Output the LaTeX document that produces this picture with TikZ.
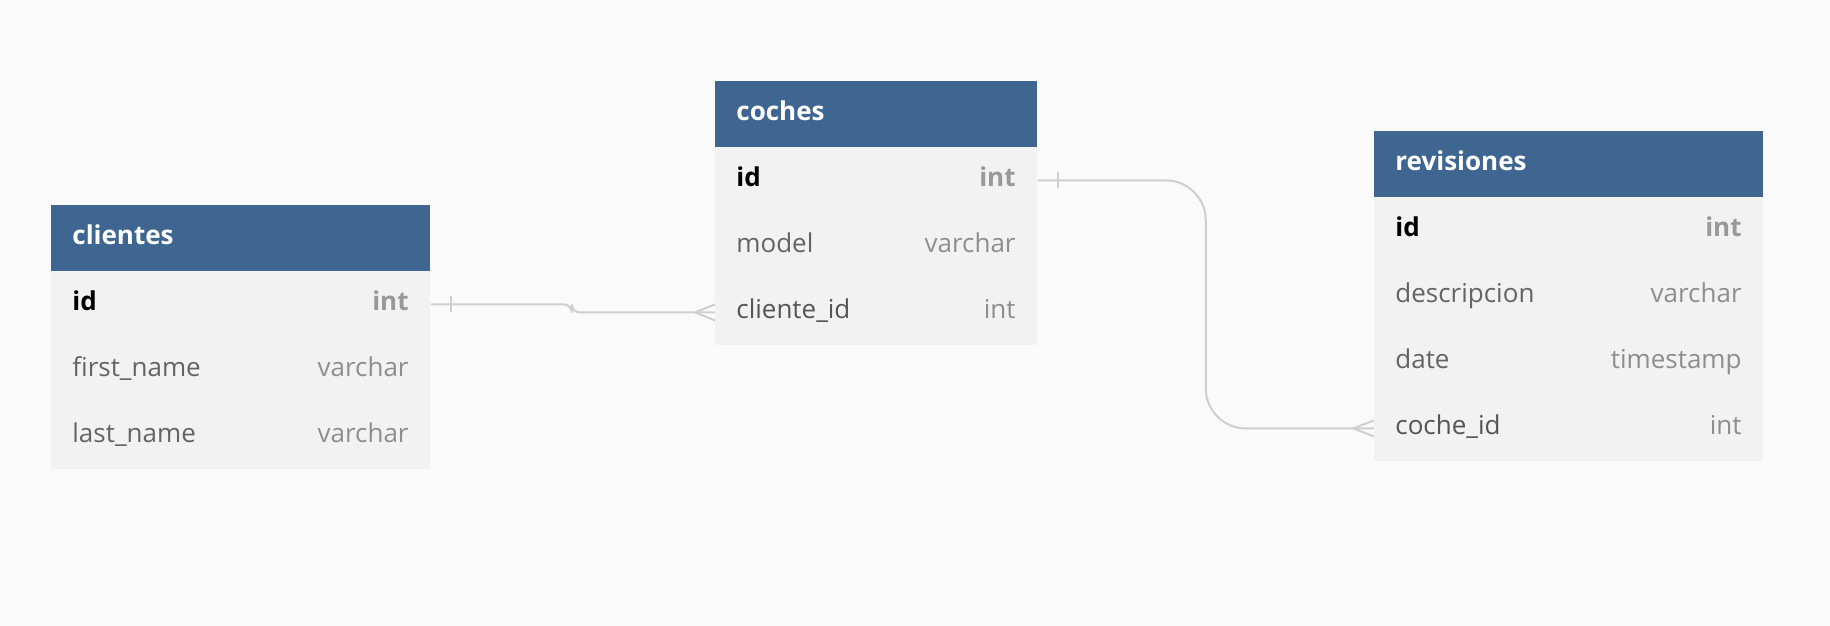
\documentclass[tikz,border=0pt]{standalone}
\usepackage{fontspec}
\setmainfont{Open Sans}
\definecolor{bgc}{HTML}{FAFAFA}
\definecolor{hdr}{HTML}{3F6690}
\definecolor{bodyc}{HTML}{F2F2F2}
\definecolor{namec}{HTML}{646464}
\definecolor{fkc}{HTML}{555555}
\definecolor{typec}{HTML}{8E8E8E}
\definecolor{pktype}{HTML}{999999}
\definecolor{linec}{HTML}{CFCFCF}
\tikzset{
  hdrbox/.style={fill=hdr, draw=none, minimum height=33pt, inner sep=0pt, anchor=north west},
  rowbox/.style={fill=bodyc, draw=none, minimum height=33pt, inner sep=0pt, anchor=north west},
  ttl/.style={text=white, font=\fontsize{13}{15}\selectfont\bfseries, anchor=base west, inner sep=0pt},
  fname/.style={text=namec, font=\fontsize{13}{15}\selectfont, anchor=base west, inner sep=0pt},
  pkname/.style={text=black, font=\fontsize{13}{15}\selectfont\bfseries, anchor=base west, inner sep=0pt},
  fkname/.style={text=fkc, font=\fontsize{13}{15}\selectfont, anchor=base west, inner sep=0pt},
  ftype/.style={text=typec, font=\fontsize{13}{15}\selectfont, anchor=base east, inner sep=0pt},
  pktyp/.style={text=pktype, font=\fontsize{13}{15}\selectfont\bfseries, anchor=base east, inner sep=0pt},
  conn/.style={draw=linec, line width=1pt},
}
\begin{document}
\begin{tikzpicture}[x=0.5pt,y=-0.5pt]
\fill[bgc] (0,0) rectangle (1830,626);
\useasboundingbox (0,0) rectangle (1830,626);

% clientes
\node[hdrbox, minimum width=189.5pt] (clh) at (51,205) {};
\node[rowbox, minimum width=189.5pt] (cl1) at (51,271) {};
\node[rowbox, minimum width=189.5pt] (cl2) at (51,337) {};
\node[rowbox, minimum width=189.5pt] (cl3) at (51,403) {};
\node[ttl] (clht) at (72,244) {clientes};
\node[pkname] (cl1n) at (72,310) {id};
\node[pktyp] (cl1t) at (409,310) {int};
\node[fname] (cl2n) at (72,376) {first\_name};
\node[ftype] (cl2t) at (409,376) {varchar};
\node[fname] (cl3n) at (72,442) {last\_name};
\node[ftype] (cl3t) at (409,442) {varchar};

% coches
\node[hdrbox, minimum width=161pt] (coh) at (715,81) {};
\node[rowbox, minimum width=161pt] (co1) at (715,147) {};
\node[rowbox, minimum width=161pt] (co2) at (715,213) {};
\node[rowbox, minimum width=161pt] (co3) at (715,279) {};
\node[ttl] (coht) at (736,120) {coches};
\node[pkname] (co1n) at (736,186) {id};
\node[pktyp] (co1t) at (1016,186) {int};
\node[fname] (co2n) at (736,252) {model};
\node[ftype] (co2t) at (1016,252) {varchar};
\node[fkname] (co3n) at (736,318) {cliente\_id};
\node[ftype] (co3t) at (1016,318) {int};

% revisiones
\node[hdrbox, minimum width=194.5pt] (rvh) at (1374,131) {};
\node[rowbox, minimum width=194.5pt] (rv1) at (1374,197) {};
\node[rowbox, minimum width=194.5pt] (rv2) at (1374,263) {};
\node[rowbox, minimum width=194.5pt] (rv3) at (1374,329) {};
\node[rowbox, minimum width=194.5pt] (rv4) at (1374,395) {};
\node[ttl] (rvht) at (1395,170) {revisiones};
\node[pkname] (rv1n) at (1395,236) {id};
\node[pktyp] (rv1t) at (1742,236) {int};
\node[fname] (rv2n) at (1395,302) {descripcion};
\node[ftype] (rv2t) at (1742,302) {varchar};
\node[fname] (rv3n) at (1395,368) {date};
\node[ftype] (rv3t) at (1742,368) {timestamp};
\node[fkname] (rv4n) at (1395,434) {coche\_id};
\node[ftype] (rv4t) at (1742,434) {int};

% connector clientes.id -> coches.cliente_id
\draw[conn, rounded corners=4] (cl1.east) -- ++(141,0) |- (co3.west);
\draw[conn] ([xshift=10pt]cl1.east) ++(0,-8) -- ++(0,16);
\draw[conn] ([xshift=-10pt]co3.west) -- ([yshift=4pt]co3.west);
\draw[conn] ([xshift=-10pt]co3.west) -- ([yshift=-4pt]co3.west);

% connector coches.id -> revisiones.coche_id
\draw[conn, rounded corners=20] (co1.east) -- ++(168,0) |- (rv4.west);
\draw[conn] ([xshift=10pt]co1.east) ++(0,-8) -- ++(0,16);
\draw[conn] ([xshift=-10.5pt]rv4.west) -- ([yshift=4pt]rv4.west);
\draw[conn] ([xshift=-10.5pt]rv4.west) -- ([yshift=-4pt]rv4.west);
\end{tikzpicture}
\end{document}
